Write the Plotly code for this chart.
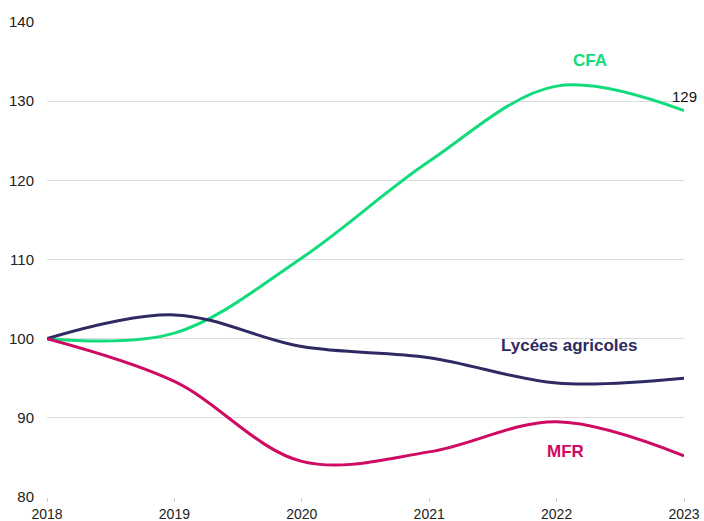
import plotly.graph_objects as go

years = [2018, 2019, 2020, 2021, 2022, 2023]
cfa = [100, 100.7, 110.2, 122.4, 131.9, 128.8]
lycees = [100, 103.0, 99.0, 97.6, 94.4, 95.0]
mfr = [100, 94.6, 84.5, 85.7, 89.5, 85.2]

series_names = ["CFA", "Lycées agricoles", "MFR"]
colors = ["#12DB7C", "#2E2A62", "#CF0A62"]
end_labels = ["129", "95", "85"]

FONT = "Liberation Sans, Arial, sans-serif"

fig = go.Figure()
for name, vals, col in zip(series_names, [cfa, lycees, mfr], colors):
    fig.add_trace(go.Scatter(
        x=years, y=vals, mode="lines", name=name,
        line=dict(color=col, width=3, shape="spline", smoothing=1),
        hoverinfo="skip", showlegend=False))

# series name labels
name_pos = [(2022.26, 135.1), (2022.1, 99.2), (2022.066, 85.7)]
for name, col, (lx, ly) in zip(series_names, colors, name_pos):
    fig.add_annotation(x=lx, y=ly, text="<b>" + name + "</b>", showarrow=False,
                       font=dict(color=col, size=17, family=FONT))

# end value labels
end_pos = [(2023.0, 130.65), (2023.05, 96.3), (2023.05, 83.2)]
for lab, (lx, ly) in zip(end_labels, end_pos):
    fig.add_annotation(x=lx, y=ly, text=lab, showarrow=False,
                       font=dict(color="#111111", size=15, family=FONT))

fig.update_layout(
    width=704, height=521,
    margin=dict(l=47, r=20, t=22, b=24),
    plot_bgcolor="white", paper_bgcolor="white",
    font=dict(family=FONT, size=15, color="#222222"),
    xaxis=dict(range=[2018, 2023], tickvals=years, ticktext=[str(y) for y in years],
               showgrid=False, zeroline=False, showline=False, automargin=False,
               ticks="outside", ticklen=4, tickcolor="#cccccc", fixedrange=True,
               tickfont=dict(size=14)),
    yaxis=dict(range=[80, 140], tickvals=[80, 90, 100, 110, 120, 130, 140],
               showgrid=True, gridcolor="#dcdcdc", gridwidth=1, zeroline=False,
               showline=False, ticks="", ticklabelstandoff=12, automargin=False,
               fixedrange=True),
)
fig.write_html("out.html", config={"displayModeBar": False, "staticPlot": True})

with open("out.html", "r", encoding="utf-8") as f:
    html = f.read()
html = html.replace("<body>", '<body style="margin:0;padding:0;overflow:hidden">', 1)
with open("out.html", "w", encoding="utf-8") as f:
    f.write(html)
